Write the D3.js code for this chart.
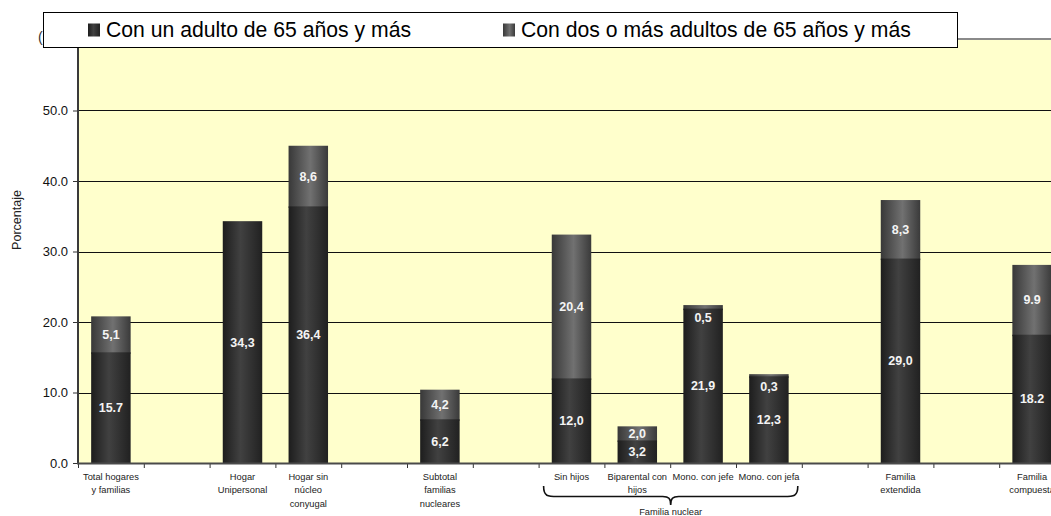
<!DOCTYPE html>
<html>
<head>
<meta charset="utf-8">
<script src="https://cdn.jsdelivr.net/npm/d3@7"></script>
<style>
  html, body { margin: 0; padding: 0; background: #ffffff; }
  svg { display: block; font-family: "Liberation Sans", Arial, Helvetica, sans-serif; }
</style>
</head>
<body>
<svg id="chart" width="1051" height="516"></svg>
<script>
// ---- data ----
const categories = [
  "Total hogares\ny familias", "", "Hogar\nUnipersonal", "Hogar sin\nnúcleo\nconyugal", "",
  "Subtotal\nfamilias\nnucleares", "", "Sin hijos", "Biparental con\nhijos", "Mono. con jefe",
  "Mono. con jefa", "", "Familia\nextendida", "", "Familia\ncompuesta"
];
const seriesNames = ["Con un adulto de 65 años y más", "Con dos o más adultos de 65 años y más"];
const oneAdult  = [15.7, null, 34.3, 36.4, null, 6.2, null, 12.0, 3.2, 21.9, 12.3, null, 29.0, null, 18.2];
const twoAdults = [5.1,  null, 0,    8.6,  null, 4.2, null, 20.4, 2.0, 0.5,  0.3,  null, 8.3,  null, 9.9];
const oneAdultLabels  = ["15.7", "", "34,3", "36,4", "", "6,2", "", "12,0", "3,2", "21,9", "12,3", "", "29,0", "", "18.2"];
const twoAdultsLabels = ["5,1",  "", "",     "8,6",  "", "4,2", "", "20,4", "2,0", "0,5",  "0,3",  "", "8,3",  "", "9.9"];
const yTicks = [0, 10, 20, 30, 40, 50];
const yAxisTitle = "Porcentaje";
const groupLabel = "Familia nuclear";
const groupRange = [7, 10]; // indices spanned by the brace

// ---- layout ----
const svg = d3.select("#chart");
const pLeft = 78, pTop = 40, pBottom = 463;
const n = categories.length;
const step = 65.8;
const pRight = pLeft + step * n;

const x = d3.scaleBand().domain(d3.range(n)).range([pLeft, pRight]).paddingInner(0.4).paddingOuter(0.2);
const xb = d3.scaleLinear().domain([0, n]).range([pLeft, pRight]);
const y = d3.scaleLinear().domain([0, 60]).range([pBottom, pTop]);

// gradients
const defs = svg.append("defs");
function grad(id, stops) {
  const g = defs.append("linearGradient").attr("id", id).attr("x1", "0%").attr("x2", "100%").attr("y1", "0%").attr("y2", "0%");
  stops.forEach(s => g.append("stop").attr("offset", s[0]).attr("stop-color", s[1]));
}
grad("gDark", [["0%", "#1d1d1d"], ["45%", "#414141"], ["100%", "#212121"]]);
grad("gLight", [["0%", "#383838"], ["55%", "#717171"], ["100%", "#3a3a3a"]]);

// plot background
svg.append("rect").attr("x", pLeft).attr("y", pTop).attr("width", pRight - pLeft).attr("height", pBottom - pTop)
  .attr("fill", "#ffffcc");
// top border of plot area
svg.append("line").attr("x1", pLeft).attr("x2", pRight).attr("y1", pTop - 1).attr("y2", pTop - 1)
  .attr("stroke", "#8a8a8a").attr("stroke-width", 2);

// gridlines
svg.append("g").selectAll("line").data(yTicks.filter(d => d > 0)).join("line")
  .attr("x1", pLeft).attr("x2", pRight)
  .attr("y1", d => Math.round(y(d)) + 0.5).attr("y2", d => Math.round(y(d)) + 0.5)
  .attr("stroke", "#111").attr("stroke-width", 1);

// bars (upper segment drawn first, slightly overlapping, to avoid a seam)
const bw = x.bandwidth();
const gBars = svg.append("g");
categories.forEach((c, i) => {
  if (oneAdult[i] == null) return;
  const v1 = oneAdult[i], v2 = twoAdults[i] || 0;
  if (v2 > 0) {
    gBars.append("rect").attr("x", x(i)).attr("width", bw)
      .attr("y", y(v1 + v2)).attr("height", y(v1) - y(v1 + v2) + 1.5).attr("fill", "url(#gLight)");
  }
  gBars.append("rect").attr("x", x(i)).attr("width", bw)
    .attr("y", y(v1)).attr("height", y(0) - y(v1)).attr("fill", "url(#gDark)");
});

// value labels
const gLab = svg.append("g").attr("font-weight", "bold").attr("font-size", "12.5px")
  .attr("fill", "#f4f4f4").attr("text-anchor", "middle");
categories.forEach((c, i) => {
  if (oneAdult[i] == null) return;
  const v1 = oneAdult[i], v2 = twoAdults[i] || 0;
  if (oneAdultLabels[i]) {
    gLab.append("text").attr("x", x(i) + bw / 2).attr("y", y(v1 / 2)).attr("dy", "0.36em").text(oneAdultLabels[i]);
  }
  if (twoAdultsLabels[i]) {
    const h = y(v1) - y(v1 + v2);
    const cy = h < 10 ? y(v1 + v2) + 12 : y(v1 + v2 / 2);
    gLab.append("text").attr("x", x(i) + bw / 2).attr("y", cy).attr("dy", "0.36em").text(twoAdultsLabels[i]);
  }
});

// y axis
const yAxis = svg.append("g").attr("transform", `translate(${pLeft},0)`)
  .call(d3.axisLeft(y).tickValues(yTicks).tickFormat(d3.format(".1f")).tickSize(5).tickPadding(5));
yAxis.select(".domain").remove();
yAxis.selectAll(".tick line").attr("stroke", "#333");
yAxis.selectAll("text").attr("font-size", "13px").attr("fill", "#111").attr("font-family", "Liberation Sans, Arial, sans-serif");
svg.append("line").attr("x1", pLeft).attr("x2", pLeft).attr("y1", pTop).attr("y2", pBottom + 1)
  .attr("stroke", "#3a3a3a").attr("stroke-width", 2);

// x axis (boundary ticks)
const xAxis = svg.append("g").attr("transform", `translate(0,${pBottom})`)
  .call(d3.axisBottom(xb).tickValues(d3.range(n + 1)).tickFormat("").tickSize(5));
xAxis.select(".domain").remove();
xAxis.selectAll(".tick line").attr("stroke", "#333");
svg.append("line").attr("x1", pLeft - 1).attr("x2", pRight).attr("y1", pBottom + 0.5).attr("y2", pBottom + 0.5)
  .attr("stroke", "#4a4a4a").attr("stroke-width", 2);

// category labels (multi-line)
const gCat = svg.append("g").attr("font-size", "9.3px").attr("fill", "#222").attr("text-anchor", "middle");
categories.forEach((c, i) => {
  if (!c) return;
  const t = gCat.append("text").attr("x", x(i) + bw / 2).attr("y", 479.5);
  c.split("\n").forEach((line, k) => {
    t.append("tspan").attr("x", x(i) + bw / 2).attr("dy", k === 0 ? 0 : 13.6).text(line);
  });
});

// brace for group
const bx0 = xb(groupRange[0]) + 5, bx1 = xb(groupRange[1] + 1) - 4;
const bm = (bx0 + bx1) / 2;
const by0 = 486, by1 = 496.5, by2 = 505;
const brace = `M${bx0},${by0} C${bx0},${by1} ${bx0 + 4},${by1} ${bx0 + 14},${by1}
  L${bm - 8},${by1} C${bm - 2},${by1} ${bm},${by1 + 2} ${bm},${by2}
  C${bm},${by1 + 2} ${bm + 2},${by1} ${bm + 8},${by1}
  L${bx1 - 14},${by1} C${bx1 - 4},${by1} ${bx1},${by1} ${bx1},${by0}`;
svg.append("path").attr("d", brace).attr("fill", "none").attr("stroke", "#111").attr("stroke-width", 1.6);
svg.append("text").attr("x", bm).attr("y", 514.5).attr("text-anchor", "middle")
  .attr("font-size", "9.3px").attr("fill", "#222").text(groupLabel);

// y axis title
svg.append("text").attr("transform", "translate(21,220) rotate(-90)").attr("text-anchor", "middle")
  .attr("font-size", "12.5px").attr("fill", "#222").text(yAxisTitle);

// hidden-title remnant behind legend
svg.append("text").attr("x", 38).attr("y", 42).attr("font-size", "14px").attr("fill", "#333").text("(");

// legend
const lg = svg.append("g");
lg.append("rect").attr("x", 43.5).attr("y", 12.5).attr("width", 914).attr("height", 35)
  .attr("fill", "#fff").attr("stroke", "#000").attr("stroke-width", 1);
const legItems = [
  { name: seriesNames[0], fill: "url(#gDark)", sx: 88, tx: 106 },
  { name: seriesNames[1], fill: "url(#gLight)", sx: 503, tx: 521 }
];
legItems.forEach(it => {
  lg.append("rect").attr("x", it.sx).attr("y", 23.5).attr("width", 12).attr("height", 13).attr("fill", it.fill);
  lg.append("text").attr("x", it.tx).attr("y", 37).attr("font-size", "21.2px").attr("fill", "#000").text(it.name);
});
</script>
</body>
</html>
